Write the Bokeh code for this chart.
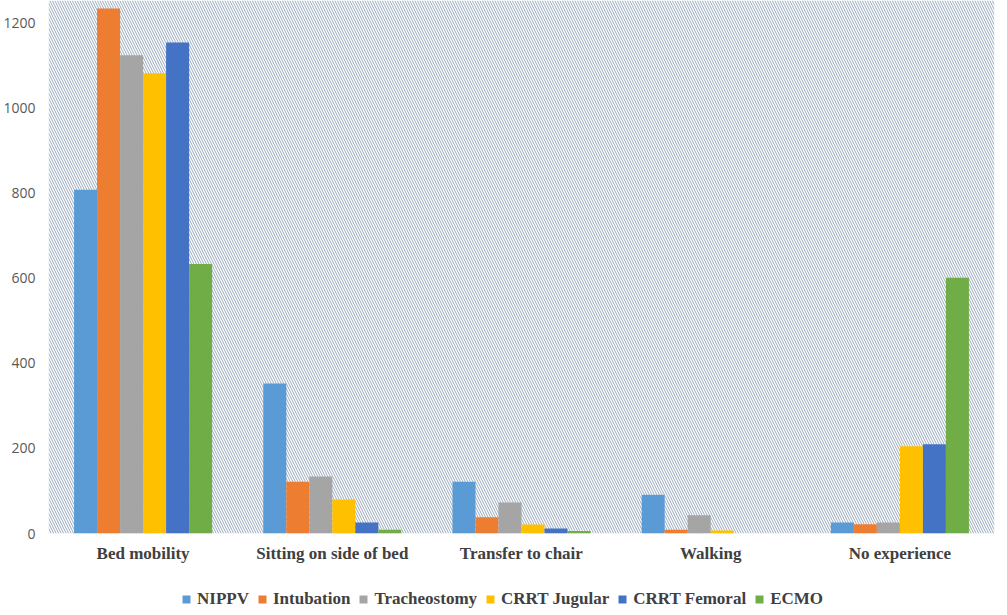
from bokeh.plotting import figure
from bokeh.models import ColumnDataSource, FactorRange, BoxAnnotation, Legend, LegendItem, FixedTicker
from bokeh.layouts import column
from bokeh.transform import dodge
from bokeh.embed import file_html
from bokeh.resources import INLINE

categories = ["Bed mobility", "Sitting on side of bed", "Transfer to chair", "Walking", "No experience"]
series = ["NIPPV", "Intubation", "Tracheostomy", "CRRT Jugular", "CRRT Femoral", "ECMO"]
nippv = [809, 353, 122, 91, 26]
intubation = [1235, 122, 38, 9, 22]
tracheostomy = [1125, 134, 73, 43, 26]
crrt_jugular = [1083, 80, 21, 7, 205]
crrt_femoral = [1155, 26, 12, 0, 210]
ecmo = [634, 9, 6, 0, 602]
y_ticks = [0, 200, 400, 600, 800, 1000, 1200]

colors = ["#5B9BD5", "#ED7D31", "#A5A5A5", "#FFC000", "#4472C4", "#70AD47"]
values = [nippv, intubation, tracheostomy, crrt_jugular, crrt_femoral, ecmo]
keys = ["s0", "s1", "s2", "s3", "s4", "s5"]

data = {"cat": categories}
for k, v in zip(keys, values):
    data[k] = v
source = ColumnDataSource(data)

p = figure(x_range=FactorRange(*categories, range_padding=0), y_range=(0, 1254),
           frame_width=946, frame_height=533, output_backend="svg", toolbar_location=None,
           min_border_left=40, min_border_right=6, min_border_top=0, min_border_bottom=25)

p.add_layout(BoxAnnotation(fill_color="white", fill_alpha=1.0, hatch_pattern="\\",
                           hatch_color="#98A9BD", hatch_scale=5, hatch_weight=1.0,
                           line_color=None, level="underlay"))

w = 0.1216
for i, (k, c) in enumerate(zip(keys, colors)):
    off = (i - 2.5) * w
    p.vbar(x=dodge("cat", off, range=p.x_range), top=k, width=w, source=source,
           fill_color=c, line_color=None)

p.xgrid.visible = False
p.ygrid.visible = False
p.outline_line_color = None
p.background_fill_color = "white"
p.border_fill_color = "white"

p.yaxis.ticker = FixedTicker(ticks=y_ticks)
p.yaxis.axis_line_color = None
p.yaxis.major_tick_line_color = None
p.yaxis.minor_tick_line_color = None
p.yaxis.major_label_text_font = "Open Sans"
p.yaxis.major_label_text_font_size = "14px"
p.yaxis.major_label_text_color = "#595959"
p.yaxis.major_label_standoff = 7

p.xaxis.axis_line_color = None
p.xaxis.major_tick_line_color = None
p.xaxis.minor_tick_line_color = None
p.xaxis.major_label_text_font = "Liberation Serif"
p.xaxis.major_label_text_font_style = "bold"
p.xaxis.major_label_text_font_size = "17px"
p.xaxis.major_label_text_color = "#404040"
p.xaxis.major_label_standoff = 4

# legend strip below the chart: zero-width copies of the series, only their legend shows
q = figure(width=992, height=44, output_backend="svg", toolbar_location=None,
           x_range=FactorRange(*categories, range_padding=0), y_range=(-2, -1),
           x_axis_type=None, y_axis_type=None,
           min_border_left=0, min_border_right=0, min_border_top=0, min_border_bottom=0)
q.xgrid.visible = False
q.ygrid.visible = False
q.outline_line_color = None
leg_renderers = [q.vbar(x="cat", top=k, width=0, source=source, fill_color=c, line_color=None)
                 for k, c in zip(keys, colors)]

legend = Legend(items=[LegendItem(label=s, renderers=[r]) for s, r in zip(series, leg_renderers)],
                orientation="horizontal", location=(133, 0),
                glyph_width=10, glyph_height=10, label_standoff=6, spacing=8,
                label_text_font="Liberation Serif", label_text_font_style="bold",
                label_text_font_size="17px", label_text_color="#404040",
                border_line_color=None, background_fill_alpha=0, padding=0, margin=0)
q.add_layout(legend, "center")

layout = column(p, q, spacing=0)
open("out.html", "w").write(file_html(layout, INLINE))
